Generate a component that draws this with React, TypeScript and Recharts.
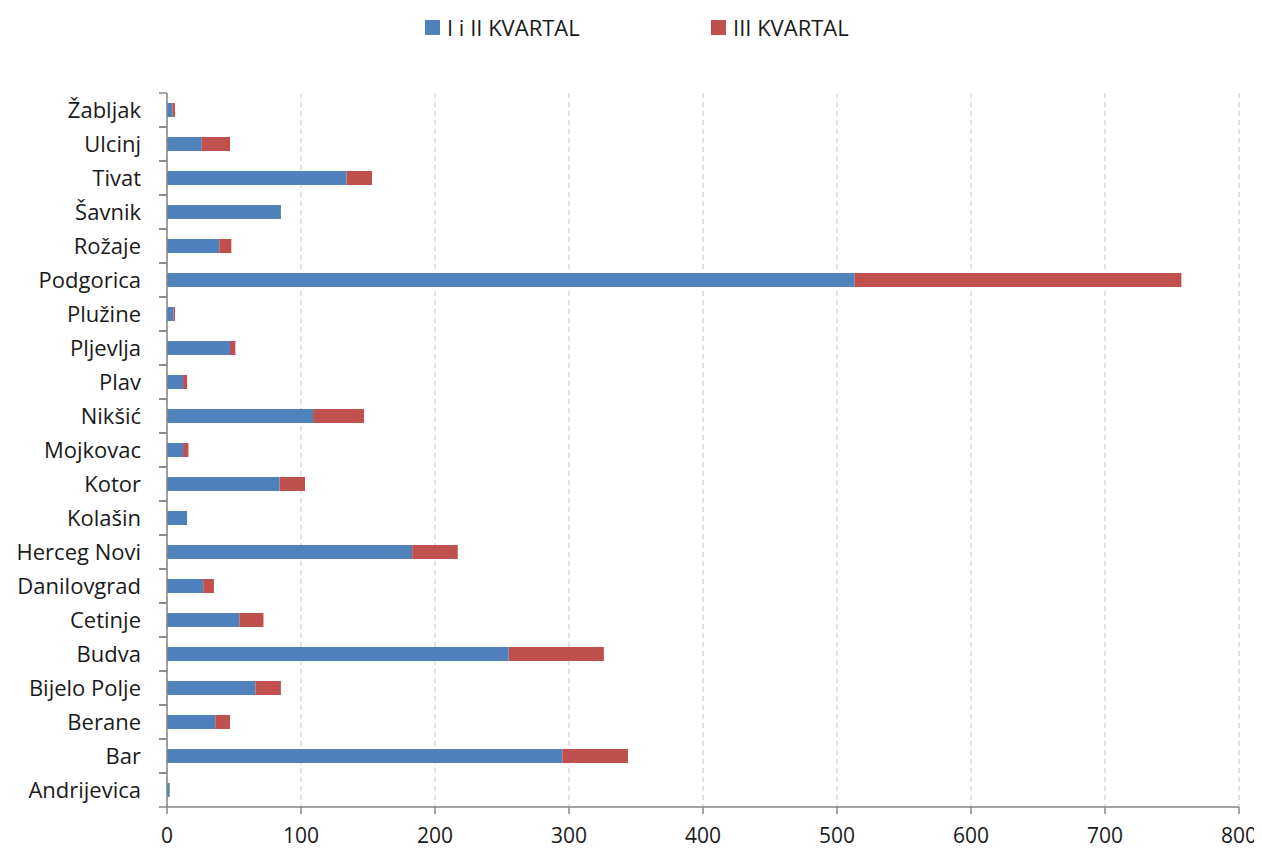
import React from "react";
import {
  BarChart,
  Bar,
  XAxis,
  YAxis,
  CartesianGrid,
  Legend,
} from "recharts";

// categories in the spreadsheet order (first one sits at the bottom)
const towns = [
  "Andrijevica",
  "Bar",
  "Berane",
  "Bijelo Polje",
  "Budva",
  "Cetinje",
  "Danilovgrad",
  "Herceg Novi",
  "Kolašin",
  "Kotor",
  "Mojkovac",
  "Nikšić",
  "Plav",
  "Pljevlja",
  "Plužine",
  "Podgorica",
  "Rožaje",
  "Šavnik",
  "Tivat",
  "Ulcinj",
  "Žabljak",
];

const firstHalf = [2, 295, 36, 66, 255, 54, 27, 183, 15, 84, 12, 109, 12, 47, 5, 513, 39, 85, 134, 26, 4];
const thirdQuarter = [0, 49, 11, 19, 71, 18, 8, 34, 0, 19, 4, 38, 3, 4, 1, 244, 9, 0, 19, 21, 2];

const xTicks = [0, 100, 200, 300, 400, 500, 600, 700, 800];

const seriesNames = ["I i II KVARTAL", "III KVARTAL"];
const colors = ["#4F81BD", "#C0504D"];

const data = towns.map((town, i) => ({
  town,
  q12: firstHalf[i],
  q3: thirdQuarter[i],
}));

const FONT = "'Open Sans', sans-serif";
const AXIS_X = 159; // left edge of the plot area in chart coords
const BAND = 34;

const TownTick = (props: any) => {
  const { y, payload } = props;
  return (
    <g>
      <line x1={AXIS_X - 8} x2={AXIS_X} y1={y - BAND / 2} y2={y - BAND / 2} stroke="#868686" strokeWidth={1.5} />
      <line x1={AXIS_X - 8} x2={AXIS_X} y1={y + BAND / 2} y2={y + BAND / 2} stroke="#868686" strokeWidth={1.5} />
      <text x={AXIS_X - 26} y={y} dy="0.36em" textAnchor="end" fill="#1a1a1a" fontSize={22} fontFamily={FONT}>
        {payload.value}
      </text>
    </g>
  );
};

const LegendBox = () => (
  <div style={{ display: "flex", marginLeft: 417, fontFamily: FONT, fontSize: 22, color: "#1a1a1a", lineHeight: "24px" }}>
    {seriesNames.map((name, i) => (
      <div key={name} style={{ display: "flex", alignItems: "center", width: 286 }}>
        <span style={{ display: "inline-block", width: 15, height: 15, background: colors[i], marginRight: 7 }} />
        <span>{name}</span>
      </div>
    ))}
  </div>
);

export default function App() {
  return (
    <BarChart
      width={1250}
      height={843}
      data={data}
      layout="vertical"
      barSize={14}
      margin={{ top: 61, right: 19, bottom: 14, left: 9 }}
    >
      <CartesianGrid horizontal={false} stroke="#c4c4c4" strokeDasharray="5 4" />
      <XAxis
        type="number"
        domain={[0, 800]}
        ticks={xTicks}
        interval={0}
        height={30}
        tickSize={7}
        tickMargin={14}
        stroke="#868686"
        strokeWidth={1.5}
        tick={{ fill: "#1a1a1a", fontSize: 21, fontFamily: FONT }}
      />
      <YAxis
        type="category"
        dataKey="town"
        reversed
        width={150}
        interval={0}
        tickLine={false}
        stroke="#868686"
        strokeWidth={1.5}
        tick={<TownTick />}
      />
      <Legend
        verticalAlign="top"
        content={<LegendBox />}
        wrapperStyle={{ top: 7, left: 0, width: 1250 }}
      />
      <Bar dataKey="q12" name={seriesNames[0]} stackId="a" fill={colors[0]} isAnimationActive={false} />
      <Bar dataKey="q3" name={seriesNames[1]} stackId="a" fill={colors[1]} isAnimationActive={false} />
    </BarChart>
  );
}
